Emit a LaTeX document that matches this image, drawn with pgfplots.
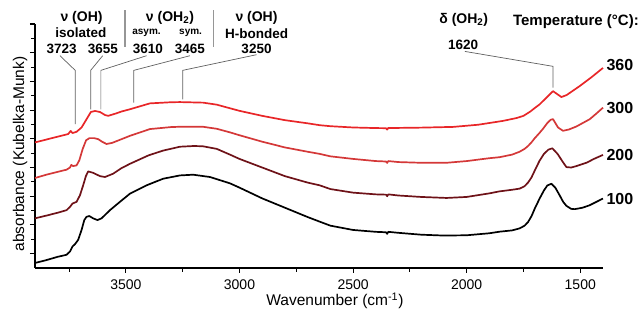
\documentclass[border=0pt]{standalone}
\usepackage{fontspec}
\setmainfont{Liberation Sans}
\usepackage{pgfplots}
\pgfplotsset{compat=1.18}
\definecolor{c360}{RGB}{232,38,40}
\definecolor{c300}{RGB}{212,56,56}
\definecolor{c200}{RGB}{110,18,24}
\definecolor{ann}{RGB}{95,95,95}
\definecolor{sep}{RGB}{150,150,150}
\newcommand\fa{\fontsize{14}{16}\selectfont\bfseries}
\newcommand\fb{\fontsize{13.5}{15}\selectfont\bfseries}
\newcommand\fc{\fontsize{10}{12}\selectfont\bfseries}
\begin{document}
\begin{tikzpicture}
\useasboundingbox (0,0) rectangle (642pt,310pt);
\begin{axis}[
  at={(35pt,42pt)}, anchor=south west,
  scale only axis, width=568pt, height=244pt,
  xmin=1400, xmax=3900, x dir=reverse,
  ymin=0, ymax=17,
  axis x line*=bottom, axis y line*=left,
  axis line style={line width=1.2pt, black, -},
  xtick={1500,2000,2500,3000,3500},
  minor xtick={1750,2250,2750,3250,3750},
  ytick={1,3,...,17}, minor ytick={2,4,...,16},
  yticklabels={},
  tick align=outside,
  major tick length=5pt, minor tick length=4pt,
  tick style={line width=1.1pt, black},
  /pgf/number format/assume math mode=true,
  /pgf/number format/1000 sep={},
  xticklabel style={font=\fontsize{14}{16}\selectfont, inner sep=0pt, yshift=-6.5pt},
  xlabel={Wavenumber (cm\textsuperscript{-1})},
  xlabel style={font=\fontsize{15.5}{17}\selectfont, inner sep=0pt, at={(axis description cs:0.528,0)}, anchor=north, yshift=-24.5pt},
  ylabel={absorbance (Kubelka-Munk)},
  ylabel style={font=\fontsize{15.5}{17}\selectfont, at={(axis description cs:-0.0264,0.467)}, anchor=center},
  clip=false,
  every axis plot/.append style={line width=1.7pt, line join=round},
]
% 100 C
\addplot[black] coordinates {
(3900,0.35)(3850,0.55)(3800,0.78)(3761,0.92)(3746,1.15)(3735,1.5)(3724,1.66)(3710,1.96)(3695,2.65)(3683,3.34)(3673,3.57)(3661,3.62)(3644,3.46)(3625,3.34)(3607,3.46)(3570,4.03)(3526,4.61)(3482,5.18)(3409,5.76)(3336,6.22)(3262,6.45)(3204,6.5)(3130,6.34)(3042,5.9)(3000,5.6)(2900,4.85)(2800,4.2)(2700,3.55)(2647,3.23)(2600,2.95)(2500,2.65)(2400,2.52)(2355,2.49)(2350,2.38)(2345,2.52)(2300,2.45)(2200,2.32)(2100,2.26)(2000,2.28)(1900,2.42)(1855,2.53)(1800,2.62)(1767,2.76)(1745,2.95)(1730,3.2)(1715,3.6)(1700,4.15)(1679,4.84)(1660,5.4)(1645,5.75)(1627,5.87)(1610,5.6)(1591,5.07)(1575,4.6)(1561,4.33)(1540,4.12)(1524,4.1)(1490,4.2)(1459,4.37)(1430,4.6)(1400,4.84)
};
% 200 C
\addplot[c200] coordinates {
(3900,3.46)(3850,3.65)(3800,3.85)(3761,4.03)(3746,4.26)(3735,4.49)(3717,4.61)(3702,5.07)(3688,5.76)(3676,6.4)(3666,6.73)(3644,6.63)(3614,6.4)(3592,6.34)(3556,6.57)(3520,6.95)(3482,7.26)(3400,7.85)(3336,8.18)(3262,8.45)(3200,8.5)(3161,8.48)(3100,8.3)(3042,7.9)(3000,7.6)(2900,7.0)(2800,6.4)(2700,5.95)(2647,5.76)(2600,5.5)(2500,5.25)(2400,5.13)(2355,5.11)(2350,5.0)(2345,5.13)(2300,5.05)(2200,4.95)(2089,4.88)(2000,4.95)(1900,5.2)(1855,5.34)(1800,5.45)(1767,5.53)(1745,5.7)(1730,5.95)(1715,6.3)(1700,6.8)(1680,7.45)(1660,7.95)(1640,8.25)(1623,8.34)(1600,7.95)(1576,7.37)(1561,7.03)(1540,7.0)(1517,7.1)(1470,7.35)(1440,7.6)(1400,7.88)
};
% 300 C
\addplot[c300] coordinates {
(3900,6.27)(3850,6.5)(3800,6.7)(3761,6.85)(3746,7.0)(3740,7.18)(3732,7.1)(3717,7.15)(3705,7.5)(3690,8.3)(3675,8.9)(3660,9.05)(3640,9.05)(3622,8.98)(3605,8.8)(3585,8.64)(3560,8.72)(3520,8.97)(3482,9.21)(3394,9.68)(3300,9.82)(3262,9.84)(3161,9.84)(3100,9.7)(3042,9.45)(3000,9.25)(2900,8.8)(2800,8.4)(2700,8.1)(2647,7.95)(2600,7.78)(2500,7.6)(2400,7.45)(2355,7.42)(2350,7.32)(2345,7.45)(2300,7.38)(2200,7.33)(2089,7.33)(2000,7.45)(1900,7.65)(1855,7.72)(1800,7.9)(1767,8.1)(1745,8.3)(1730,8.5)(1715,8.75)(1700,9.05)(1680,9.4)(1664,9.7)(1645,10.1)(1630,10.33)(1620,10.37)(1598,9.79)(1576,9.56)(1550,9.65)(1517,9.86)(1458,10.37)(1430,10.75)(1400,11.17)
};
% 360 C
\addplot[c360] coordinates {
(3900,8.75)(3850,8.95)(3800,9.15)(3754,9.33)(3743,9.55)(3735,9.4)(3717,9.49)(3695,9.79)(3673,10.37)(3654,10.87)(3636,10.94)(3614,10.87)(3592,10.66)(3578,10.6)(3541,10.78)(3520,10.9)(3482,11.06)(3394,11.47)(3300,11.55)(3262,11.56)(3160,11.52)(3100,11.38)(3042,11.13)(3000,10.95)(2900,10.6)(2800,10.3)(2700,10.08)(2647,9.95)(2600,9.88)(2500,9.79)(2400,9.75)(2355,9.74)(2350,9.64)(2345,9.76)(2300,9.76)(2200,9.78)(2060,9.83)(1950,9.98)(1840,10.25)(1780,10.45)(1750,10.6)(1735,10.75)(1720,10.9)(1700,11.15)(1679,11.4)(1650,11.85)(1620,12.32)(1600,12.1)(1583,11.91)(1560,12.05)(1503,12.67)(1450,13.3)(1400,13.94)
};
% leader lines
\draw[ann, line width=0.7pt] (axis cs:3790,14.79) -- (axis cs:3723,13.77) -- (axis cs:3723,10.02);
\draw[ann, line width=0.7pt] (axis cs:3602,14.79) -- (axis cs:3655,13.77) -- (axis cs:3655,11.06);
\draw[ann, line width=0.7pt] (axis cs:3409,14.79) -- (axis cs:3610,13.77) -- (axis cs:3610,11.06);
\draw[ann, line width=0.7pt] (axis cs:3218,14.79) -- (axis cs:3465,13.77) -- (axis cs:3465,11.52);
\draw[ann, line width=0.7pt] (axis cs:2925,14.86) -- (axis cs:3250,13.77) -- (axis cs:3250,11.75);
\draw[ann, line width=0.7pt] (axis cs:2008,15.09) -- (axis cs:1620,14.05) -- (axis cs:1620,12.56);
% separators
\draw[sep, line width=1.2pt] (axis cs:3504,17.97) -- (axis cs:3504,15.41);
\draw[sep, line width=1.2pt] (axis cs:3116,17.97) -- (axis cs:3116,15.41);
% annotation texts
\node[font=\fa] at (axis cs:3695,17.42) {ν (OH)};
\node[font=\fb] at (axis cs:3698,16.38) {isolated};
\node[font=\fb] at (axis cs:3783,15.27) {3723};
\node[font=\fb] at (axis cs:3601,15.27) {3655};
\node[font=\fa] at (axis cs:3306,17.42) {ν (OH\textsubscript{2})};
\node[font=\fc] at (axis cs:3409,16.4) {asym.};
\node[font=\fc] at (axis cs:3215,16.4) {sym.};
\node[font=\fb] at (axis cs:3403,15.27) {3610};
\node[font=\fb] at (axis cs:3218,15.27) {3465};
\node[font=\fa] at (axis cs:2925,17.42) {ν (OH)};
\node[font=\fb] at (axis cs:2925,16.33) {H-bonded};
\node[font=\fb] at (axis cs:2925,15.27) {3250};
\node[font=\fa] at (axis cs:2013,17.28) {δ (OH\textsubscript{2})};
\node[font=\fb] at (axis cs:2016,15.55) {1620};
\node[font=\fontsize{15}{17}\selectfont\bfseries] at (axis cs:1519,17.16) {Temperature (°C):};
\node[font=\fontsize{16}{18}\selectfont\bfseries, anchor=west] at (axis cs:1400,14.17) {360};
\node[font=\fontsize{16}{18}\selectfont\bfseries, anchor=west] at (axis cs:1400,11.17) {300};
\node[font=\fontsize{16}{18}\selectfont\bfseries, anchor=west] at (axis cs:1400,7.88) {200};
\node[font=\fontsize{16}{18}\selectfont\bfseries, anchor=west] at (axis cs:1400,4.84) {100};
\end{axis}
\end{tikzpicture}
\end{document}
